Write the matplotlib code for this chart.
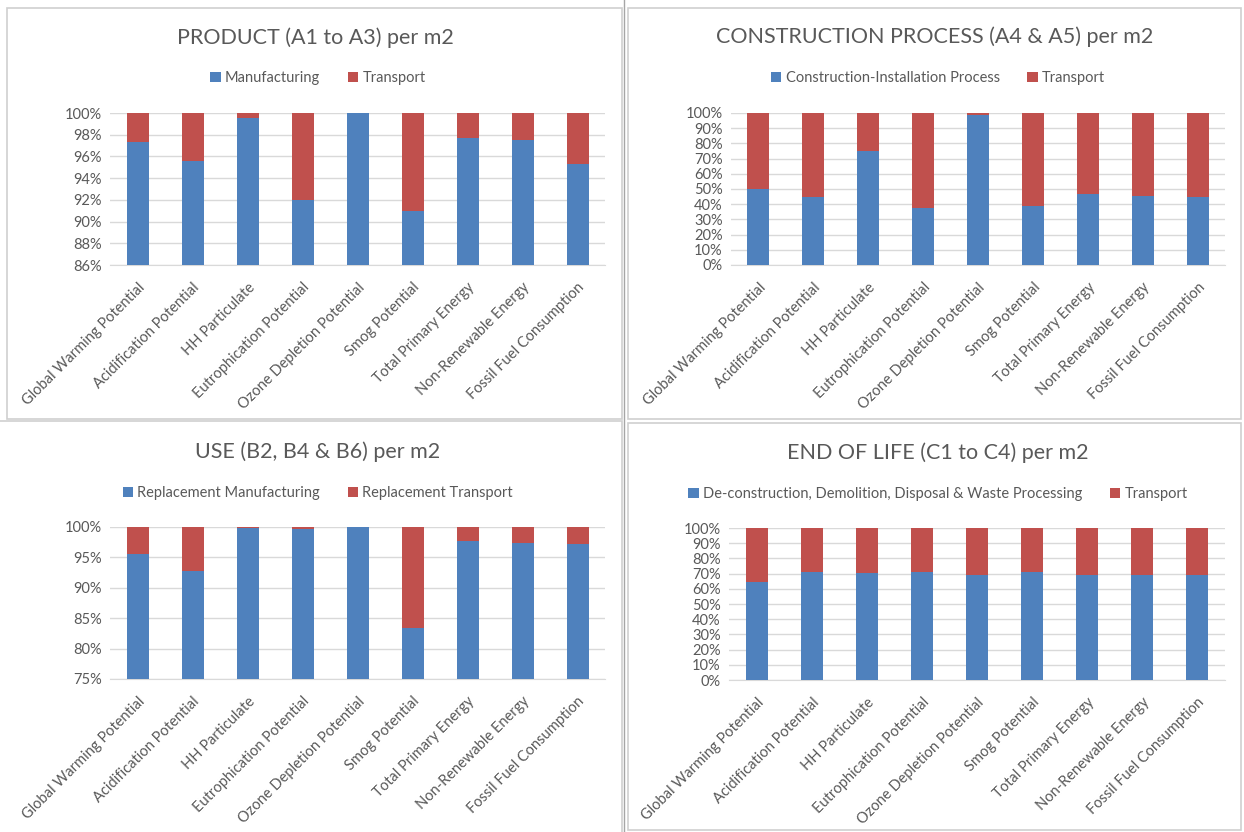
import matplotlib
matplotlib.use("Agg")
import matplotlib.pyplot as plt
from matplotlib.patches import Rectangle
from matplotlib.lines import Line2D
import numpy as np

plt.rcParams['font.family'] = ['Lato', 'DejaVu Sans']

categories = ['Global Warming Potential', 'Acidification Potential', 'HH Particulate',
              'Eutrophication Potential', 'Ozone Depletion Potential', 'Smog Potential',
              'Total Primary Energy', 'Non-Renewable Energy', 'Fossil Fuel Consumption']

# share of each impact (in %) taken by the main process; transport makes up the rest
product_manufacturing = [97.3, 95.55, 99.5, 92.0, 99.97, 91.0, 97.7, 97.55, 95.3]
construction_process = [50.3, 44.6, 74.7, 37.8, 98.9, 38.7, 46.4, 45.5, 44.6]
use_replacement = [95.5, 92.75, 99.8, 99.75, 99.95, 83.4, 97.7, 97.4, 97.2]
eol_processing = [64.4, 71.2, 70.3, 70.8, 68.8, 71.2, 69.2, 68.8, 68.8]

panels = [
    ("PRODUCT (A1 to A3) per m2", ["Manufacturing", "Transport"], product_manufacturing,
     (86, 100, 2)),
    ("CONSTRUCTION PROCESS (A4 & A5) per m2", ["Construction-Installation Process", "Transport"],
     construction_process, (0, 100, 10)),
    ("USE (B2, B4 & B6) per m2", ["Replacement Manufacturing", "Replacement Transport"],
     use_replacement, (75, 100, 5)),
    ("END OF LIFE (C1 to C4) per m2",
     ["De-construction, Demolition, Disposal & Waste Processing", "Transport"],
     eol_processing, (0, 100, 10)),
]

W, H = 1244, 832
BLUE = '#4F81BD'
RED = '#C0504D'
TXT = '#595959'
GRID = '#d9d9d9'

fig = plt.figure(figsize=(W / 100, H / 100), dpi=100)

def px_rect(x0, y0, x1, y1):
    # pixel box (top-left origin) -> figure fraction [left, bottom, width, height]
    return [x0 / W, 1 - y1 / H, (x1 - x0) / W, (y1 - y0) / H]

# chart frames
frames = [(7, 8, 622, 419), (628, 8, 1241, 419), (-2, 421, 622, 833), (628, 423, 1241, 830)]
for x0, y0, x1, y1 in frames:
    fig.patches.append(Rectangle((x0 / W, 1 - y1 / H), (x1 - x0) / W, (y1 - y0) / H,
                                 transform=fig.transFigure, fill=False,
                                 edgecolor='#cfcfcf', linewidth=1.2))
fig.lines.append(Line2D([624 / W, 624 / W], [0, 1], transform=fig.transFigure,
                        color='#a6a6a6', linewidth=1.0))

plot_boxes = [(110, 113, 605, 265), (731, 113, 1225, 265),
              (110, 527, 605, 679), (729, 528, 1225, 680)]
title_pos = [(315, 38), (935, 37), (318, 452), (938, 453)]
legend_pos = [(318, 78), (938, 78), (318, 493), (938, 494)]

x = np.arange(len(categories))
for (title, names, main, (lo, hi, step)), box, tp, lp in zip(panels, plot_boxes, title_pos, legend_pos):
    ax = fig.add_axes(px_rect(*box))
    main = np.array(main)
    transport = 100 - main
    ax.bar(x, main, 0.4, color=BLUE, label=names[0], zorder=3)
    ax.bar(x, transport, 0.4, bottom=main, color=RED, label=names[1], zorder=3)

    ax.set_xlim(-0.5, len(categories) - 0.5)
    ax.set_ylim(lo, hi)
    ticks = np.arange(lo, hi + step / 2, step)
    ax.set_yticks(ticks)
    ax.set_yticklabels([f"{int(t)}%" for t in ticks], fontsize=10.5, color=TXT)
    ax.yaxis.grid(True, color=GRID, linewidth=1.0, zorder=0)
    ax.set_axisbelow(True)
    for s in ['top', 'right', 'left']:
        ax.spines[s].set_visible(False)
    ax.spines['bottom'].set_color(GRID)
    ax.tick_params(axis='both', length=0)
    ax.tick_params(axis='y', pad=6)
    ax.set_xticks(x)
    ax.set_xticklabels(categories, rotation=45, ha='right', rotation_mode='anchor',
                       fontsize=10.5, color=TXT)
    ax.tick_params(axis='x', pad=11)

    fig.text(tp[0] / W, 1 - tp[1] / H, title, ha='center', va='center',
             fontsize=15.5, color=TXT)
    ax.legend(loc='center', bbox_to_anchor=(lp[0] / W, 1 - lp[1] / H),
              bbox_transform=fig.transFigure, ncol=2, frameon=False, fontsize=10.5,
              handlelength=0.7, handleheight=0.7, handletextpad=0.3,
              columnspacing=1.9, labelcolor=TXT)

fig.savefig('out.png', dpi=100, facecolor='white')
